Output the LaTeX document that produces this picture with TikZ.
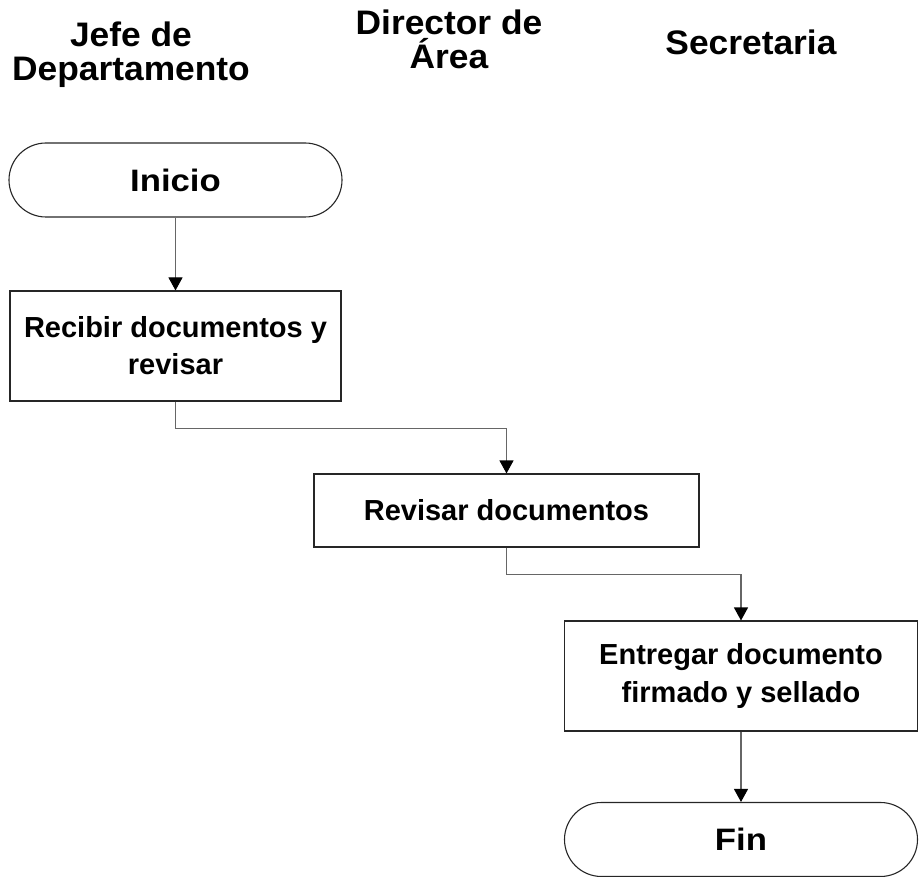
\documentclass[tikz,border=0pt]{standalone}
\usepackage{fontspec}
\setmainfont{Liberation Sans}
\newfontfamily\termfont[FakeStretch=1.12]{Liberation Sans}
\newfontfamily\hdrfont[FakeStretch=1.04]{Liberation Sans}
\usetikzlibrary{arrows.meta}
\begin{document}
\begin{tikzpicture}[x=1pt,y=-1pt,
  hdr/.style={font=\hdrfont\fontsize{34}{34}\selectfont\bfseries, align=center, inner sep=0pt},
  proc/.style={draw=black!85, line width=1.1pt, align=center, inner sep=0pt,
    font=\fontsize{29}{37}\selectfont\bfseries},
  term/.style={proc, rounded corners=37pt, minimum height=74pt,
    font=\termfont\fontsize{31}{37}\selectfont\bfseries},
  flow/.style={draw=black!60, line width=1.1pt,
    -{Triangle[length=13pt,width=14pt,color=black]}}]
\useasboundingbox (0,0) rectangle (919,877);
% headers
\node[hdr] (h1) at (131,55) {Jefe de\\Departamento};
\node[hdr] (h2) at (449,39) {Director de\\Área};
\node[hdr] (h3) at (751,42) {Secretaria};
% shapes
\node[term, minimum width=333pt] (ini) at (175.5,180) {Inicio};
\node[proc, minimum width=331pt, minimum height=110pt] (b1) at (175.5,346) {Recibir documentos y\\revisar};
\node[proc, minimum width=385pt, minimum height=73pt] (b2) at (506.5,510.5) {Revisar documentos};
\node[proc, minimum width=353pt, minimum height=110pt] (b3) at (741,676) {Entregar documento\\firmado y sellado};
\node[term, minimum width=353pt] (fin) at (741,839.5) {Fin};
% connectors
\draw[flow] (ini.south) -- (b1.north);
\draw[flow] (b1.south) -- ++(0,27) -| (b2.north);
\draw[flow] (b2.south) -- ++(0,27) -| (b3.north);
\draw[flow] (b3.south) -- (fin.north);
\end{tikzpicture}
\end{document}
